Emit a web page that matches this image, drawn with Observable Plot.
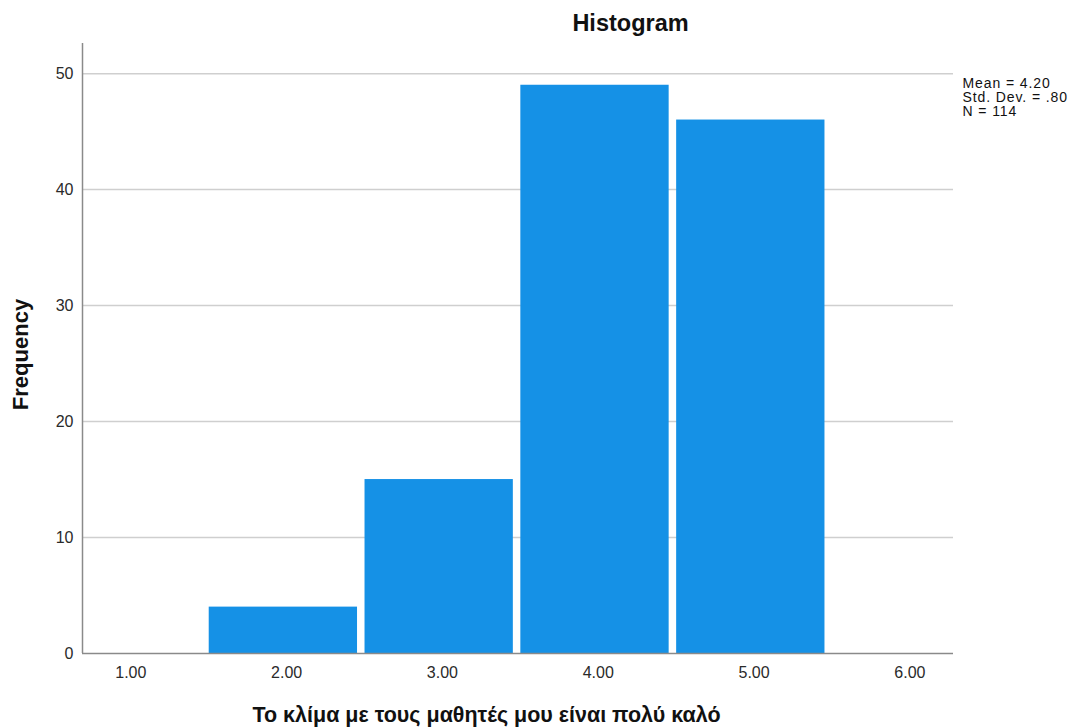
<!DOCTYPE html>
<html>
<head>
<meta charset="utf-8">
<script src="https://cdn.jsdelivr.net/npm/d3@7"></script>
<script src="https://cdn.jsdelivr.net/npm/@observablehq/plot@0.6"></script>
<style>
  html, body { margin: 0; padding: 0; background: #fff; }
  svg { display: block; }
</style>
</head>
<body>
<div id="chart"></div>
<script>
// Data
const binCenters = [2, 3, 4, 5];
const frequencies = [4, 15, 49, 46];
const xTicks = [1, 2, 3, 4, 5, 6];
const yTicks = [0, 10, 20, 30, 40, 50];
const gridTicks = [10, 20, 30, 40, 50];
const xDomain = [0.69, 6.28];
const yDomain = [0, 52.6];
const statsLines = ["Mean = 4.20", "Std. Dev. = .80", "N = 114"];
const titleText = "Histogram";
const xLabel = "Το κλίμα με τους μαθητές μου είναι πολύ καλό";
const yLabel = "Frequency";

const bins = binCenters.map((c, i) => ({x1: c - 0.5, x2: c + 0.5, count: frequencies[i]}));

const font = "Arial, 'Liberation Sans', sans-serif";

const chart = Plot.plot({
  width: 1073,
  height: 728,
  marginLeft: 82,
  marginRight: 120,
  marginTop: 43,
  marginBottom: 75,
  style: {fontFamily: font, background: "#fff", color: "#222"},
  x: {domain: xDomain, label: null},
  y: {domain: yDomain, label: null},
  marks: [
    Plot.gridY(gridTicks, {stroke: "#cfcfcf", strokeOpacity: 1, strokeWidth: 1.5}),
    Plot.rectY(bins, {x1: "x1", x2: "x2", y: "count", fill: "#1591e6", insetLeft: 0.5, insetRight: 7}),
    Plot.ruleY([0], {stroke: "#8a8a8a", strokeWidth: 1.5}),
    Plot.ruleX([xDomain[0]], {stroke: "#8a8a8a", strokeWidth: 1.5}),
    Plot.axisY(yTicks, {tickSize: 0, tickPadding: 9, fontSize: 16, fill: "#2a2a2a"}),
    Plot.axisX(xTicks, {tickSize: 0, tickPadding: 13, fontSize: 16, fill: "#2a2a2a", tickFormat: d3.format(".2f")}),
    Plot.text([titleText], {frameAnchor: "top", lineAnchor: "middle", dx: 112.5, dy: -20, fontSize: 23.5, fontWeight: "bold", fill: "#111"}),
    Plot.text([xLabel], {frameAnchor: "bottom", lineAnchor: "middle", dx: -31.5, dy: 62, fontSize: 21.5, fontWeight: "bold", fill: "#111"}),
    Plot.text([yLabel], {frameAnchor: "left", textAnchor: "middle", lineAnchor: "middle", dx: -62, dy: 6, rotate: -90, fontSize: 22, fontWeight: "bold", fill: "#111"}),
    Plot.text([statsLines.join("\n")], {frameAnchor: "top-right", textAnchor: "start", lineAnchor: "top", dx: 9, dy: 35, fontSize: 14, lineHeight: 1.0, fill: "#111"})
  ]
});
// Widen the statistics text slightly, as in the reference
d3.select(chart).selectAll("text")
  .filter(function() { return this.textContent.indexOf("Mean") >= 0; })
  .style("letter-spacing", "0.9px");
document.getElementById("chart").appendChild(chart);
</script>
</body>
</html>
